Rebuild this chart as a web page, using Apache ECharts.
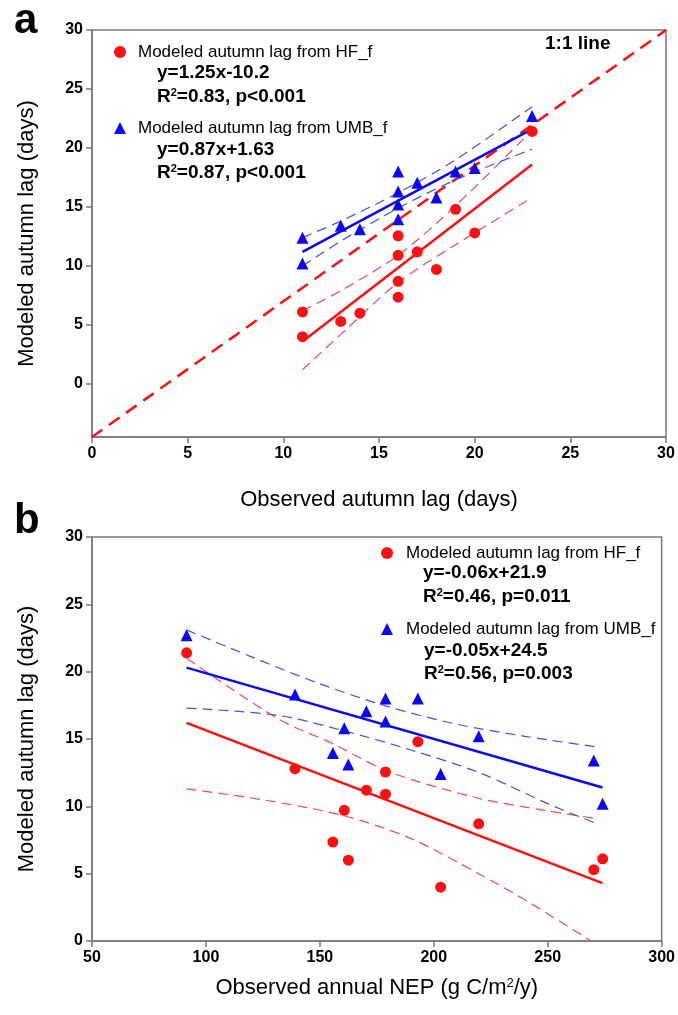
<!DOCTYPE html>
<html>
<head>
<meta charset="utf-8">
<script src="https://cdn.jsdelivr.net/npm/echarts@6/dist/echarts.min.js"></script>
<style>
  html, body { margin: 0; padding: 0; background: #fff; }
  #chart { width: 678px; height: 1015px; }
</style>
</head>
<body>
<div id="chart"></div>
<script>
// ---------- data ----------
const lagTicks = [0, 5, 10, 15, 20, 25, 30];
const nepTicks = [50, 100, 150, 200, 250, 300];
const modeledTicks = [0, 5, 10, 15, 20, 25, 30];

// one entry per site
const observedLag = [23, 20, 18, 16, 14, 17, 16, 16, 19, 11, 16, 13, 11];
const observedNEP = [91.5, 139.1, 160.7, 155.7, 162.5, 170.4, 178.8, 178.8, 193.0, 203.0, 219.7, 270.2, 274.1];
const modeledHF = [21.4, 12.8, 9.7, 7.35, 6.0, 11.2, 12.55, 10.9, 14.8, 4.0, 8.7, 5.3, 6.1];
const modeledUMB = [22.7, 18.3, 15.8, 13.96, 13.1, 17.06, 18.0, 16.3, 18.0, 12.4, 15.2, 13.4, 10.2];

// panel a lines
const oneToOneLine = [[0, -4.5], [30, 30]];
const hfFitA = [[11, 3.6], [23, 18.6]];
const hfUpperA = [[11, 6.2], [13, 7.9], [16, 10.9], [19, 15.1], [23, 21.5]];
const hfLowerA = [[11, 1.2], [13, 4.2], [16, 8.6], [19, 11.8], [23, 15.8]];
const umbFitA = [[11, 11.2], [23, 21.6]];
const umbUpperA = [[11, 12.4], [13, 13.8], [16, 16.2], [19, 19.0], [23, 23.5]];
const umbLowerA = [[11, 10.0], [13, 12.1], [16, 14.9], [19, 17.3], [23, 19.9]];

// panel b lines
const hfFitB = [[91.5, 16.2], [274, 4.3]];
const hfUpperB = [[91.5, 21.0], [131.7, 16.5], [156.4, 14.6], [180.5, 12.55], [219.7, 10.6], [248.7, 9.7], [272, 9.07]];
const hfLowerB = [[91.5, 11.3], [124.5, 10.5], [160.7, 9.3], [190, 7.6], [219.7, 5.0], [241.5, 2.9], [269, 0]];
const umbFitB = [[91.5, 20.3], [274, 11.4]];
const umbUpperB = [[91.5, 23.1], [120, 21.1], [150, 19.1], [180, 17.4], [210, 16.1], [240, 15.2], [272, 14.4]];
const umbLowerB = [[91.5, 17.3], [131.7, 16.75], [160.7, 15.6], [189.7, 14.2], [220, 12.5], [250, 10.2], [272, 8.68]];

const nameHF = 'Modeled autumn lag from HF_f';
const nameUMB = 'Modeled autumn lag from UMB_f';

// ---------- styling ----------
const FONT = "'Liberation Sans', Arial, Helvetica, sans-serif";
const RED = '#ff1010';
const BLUE = '#0a0af0';
const RED_BAND = '#ee4a5a';
const BLUE_BAND = '#4050e6';
const AXIS = '#7a7a7a';

const zip = (xs, ys) => xs.map((x, i) => [x, ys[i]]);

function axisCommon(ticks) {
  return {
    type: 'value',
    axisLine: { show: true, onZero: false, lineStyle: { color: AXIS, width: 1.5 } },
    axisTick: { show: true, inside: false, length: 6, customValues: ticks, lineStyle: { color: AXIS, width: 1.5 } },
    axisLabel: { customValues: ticks, color: '#000', fontFamily: FONT, fontSize: 16, fontWeight: 'bold', margin: 9 },
    splitLine: { show: false },
    nameLocation: 'middle',
    nameTextStyle: { color: '#000', fontFamily: FONT, fontSize: 22,
      rich: { s: { fontFamily: FONT, fontSize: 13, verticalAlign: 'top', color: '#000' } } }
  };
}

function lineSeries(name, data, xi, color, width, dashed, z) {
  return {
    name: name, type: 'line', xAxisIndex: xi, yAxisIndex: xi, data: data,
    symbol: 'none', smooth: dashed ? 0.3 : false, silent: true, z: z,
    lineStyle: { color: color, width: width, type: dashed ? dashed : 'solid' }
  };
}

function scatter(name, data, xi, symbol, color, size) {
  return {
    name: name, type: 'scatter', xAxisIndex: xi, yAxisIndex: xi, data: data,
    symbol: symbol, symbolSize: size, itemStyle: { color: color, opacity: 1 }, z: 10
  };
}

function eqText(x, y, text) {
  return { type: 'text', x: x, y: y, z: 20,
    style: { text: text, fill: '#000', font: 'bold 19px ' + FONT, verticalAlign: 'middle',
      rich: { b: { font: 'bold 19px ' + FONT, fill: '#000' },
              s: { font: 'bold 11px ' + FONT, fill: '#000', verticalAlign: 'top' } } } };
}

const legendCommon = {
  data: [nameHF, nameUMB], orient: 'vertical', padding: 0,
  itemWidth: 12, itemHeight: 12, itemGap: 56, selectedMode: false,
  textStyle: { color: '#000', fontFamily: FONT, fontSize: 17, lineHeight: 20, padding: [0, 0, 0, 7] }
};

const option = {
  animation: false,
  backgroundColor: '#fff',
  grid: [
    { left: 92, top: 30, width: 574, height: 407, show: true, borderColor: AXIS, borderWidth: 1.5, containLabel: false },
    { left: 92, top: 537, width: 575, height: 404, show: true, borderColor: AXIS, borderWidth: 1.5, containLabel: false }
  ],
  xAxis: [
    Object.assign(axisCommon(lagTicks), { gridIndex: 0, min: 0, max: 30, name: 'Observed autumn lag (days)', nameGap: 52 }),
    Object.assign(axisCommon(nepTicks), { gridIndex: 1, min: 50, max: 300, name: 'Observed annual NEP (g C/m{s|2}/y)', nameGap: 36 })
  ],
  yAxis: [
    Object.assign(axisCommon(modeledTicks), { gridIndex: 0, min: -4.5, max: 30, name: 'Modeled autumn lag (days)', nameGap: 54 }),
    Object.assign(axisCommon(modeledTicks), { gridIndex: 1, min: 0, max: 30, name: 'Modeled autumn lag (days)', nameGap: 54 })
  ],
  legend: [
    Object.assign({}, legendCommon, { left: 114, top: 42 }),
    Object.assign({}, legendCommon, { left: 381, top: 543, textStyle: Object.assign({}, legendCommon.textStyle, { padding: [0, 0, 0, 8] }) })
  ],
  graphic: [
    { type: 'text', x: 14, y: 0, style: { text: 'a', font: 'bold 42px ' + FONT, fill: '#000' } },
    { type: 'text', x: 14, y: 500, style: { text: 'b', font: 'bold 42px ' + FONT, fill: '#000' } },
    { type: 'text', x: 545, y: 44, style: { text: '1:1 line', font: 'bold 19px ' + FONT, fill: '#000', verticalAlign: 'middle' } },
    eqText(157, 73, '{b|y=1.25x-10.2}'),
    eqText(157, 97, '{b|R}{s|2}{b|=0.83, p<0.001}'),
    eqText(157, 150, '{b|y=0.87x+1.63}'),
    eqText(157, 173, '{b|R}{s|2}{b|=0.87, p<0.001}'),
    eqText(423, 573, '{b|y=-0.06x+21.9}'),
    eqText(423, 597, '{b|R}{s|2}{b|=0.46, p=0.011}'),
    eqText(424, 651, '{b|y=-0.05x+24.5}'),
    eqText(424, 674, '{b|R}{s|2}{b|=0.56, p=0.003}')
  ],
  series: [
    // panel a
    lineSeries('1:1', oneToOneLine, 0, RED, 2.5, [13, 8], 2),
    lineSeries('hfUpperA', hfUpperA, 0, RED_BAND, 1.2, [10, 6], 3),
    lineSeries('hfLowerA', hfLowerA, 0, RED_BAND, 1.2, [10, 6], 3),
    lineSeries('umbUpperA', umbUpperA, 0, BLUE_BAND, 1.2, [10, 6], 3),
    lineSeries('umbLowerA', umbLowerA, 0, BLUE_BAND, 1.2, [10, 6], 3),
    lineSeries('hfFitA', hfFitA, 0, RED, 2.5, null, 4),
    lineSeries('umbFitA', umbFitA, 0, BLUE, 2.5, null, 4),
    scatter(nameHF, zip(observedLag, modeledHF), 0, 'circle', RED, 11),
    scatter(nameUMB, zip(observedLag, modeledUMB), 0, 'triangle', BLUE, 12),
    // panel b
    lineSeries('hfUpperB', hfUpperB, 1, RED_BAND, 1.2, [10, 6], 3),
    lineSeries('hfLowerB', hfLowerB, 1, RED_BAND, 1.2, [10, 6], 3),
    lineSeries('umbUpperB', umbUpperB, 1, BLUE_BAND, 1.2, [10, 6], 3),
    lineSeries('umbLowerB', umbLowerB, 1, BLUE_BAND, 1.2, [10, 6], 3),
    lineSeries('hfFitB', hfFitB, 1, RED, 2.5, null, 4),
    lineSeries('umbFitB', umbFitB, 1, BLUE, 2.5, null, 4),
    scatter(nameHF, zip(observedNEP, modeledHF), 1, 'circle', RED, 11),
    scatter(nameUMB, zip(observedNEP, modeledUMB), 1, 'triangle', BLUE, 12)
  ]
};

const chart = echarts.init(document.getElementById('chart'), null, { renderer: 'canvas' });
chart.setOption(option);
</script>
</body>
</html>
